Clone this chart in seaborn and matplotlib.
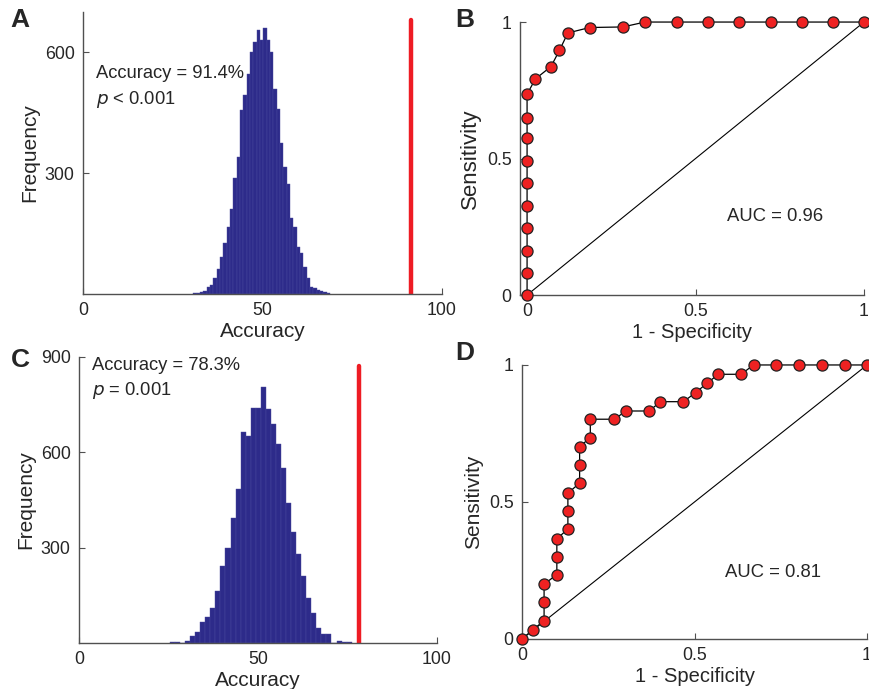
import numpy as np
import pandas as pd
import seaborn as sns
import matplotlib.pyplot as plt

# Panel A: permutation histogram (bin width ~0.93, starting at 30.7)
hist_a_start = 30.7
hist_a_width = 0.93
hist_a_counts = [2, 3, 5, 8, 18, 22, 39, 61, 93, 126, 167, 212, 287, 340, 456,
                 493, 547, 601, 626, 655, 630, 661, 630, 601, 510, 460, 374,
                 316, 274, 188, 167, 117, 101, 68, 39, 18, 14, 10, 7, 5, 2]
acc_a = 91.4

# Panel C: permutation histogram (bin width ~1.41, starting at 25.4)
hist_c_start = 25.4
hist_c_width = 1.41
hist_c_counts = [2, 4, 0, 6, 22, 35, 67, 82, 111, 164, 241, 299, 392, 483, 663,
                 650, 739, 739, 806, 736, 690, 626, 551, 440, 348, 280, 210,
                 140, 93, 48, 28, 28, 0, 7, 4, 2]
acc_c = 78.3

# Panel B: ROC curve
fpr_b = [0, 0, 0, 0, 0, 0, 0, 0, 0, 0, 0.025, 0.071, 0.096, 0.121, 0.186,
         0.284, 0.35, 0.445, 0.537, 0.63, 0.724, 0.817, 0.909, 1.0]
tpr_b = [0, 0.079, 0.163, 0.244, 0.326, 0.41, 0.491, 0.575, 0.65, 0.736,
         0.792, 0.837, 0.896, 0.96, 0.98, 0.982, 1, 1, 1, 1, 1, 1, 1, 1]

# Panel D: ROC curve
fpr_d = [0, 0.032, 0.064, 0.064, 0.064, 0.101, 0.101, 0.101, 0.133, 0.133,
         0.133, 0.167, 0.167, 0.167, 0.198, 0.198, 0.268, 0.301, 0.369, 0.401,
         0.468, 0.503, 0.536, 0.569, 0.635, 0.671, 0.736, 0.804, 0.87, 0.937, 1.0]
tpr_d = [0, 0.034, 0.067, 0.134, 0.2, 0.235, 0.299, 0.366, 0.401, 0.468,
         0.532, 0.569, 0.635, 0.702, 0.735, 0.802, 0.802, 0.832, 0.832, 0.866,
         0.866, 0.899, 0.933, 0.966, 0.966, 1, 1, 1, 1, 1, 1]

sns.set_theme(style="ticks")
plt.rcParams["font.family"] = ["Liberation Sans", "DejaVu Sans"]

BAR = "#2d2b8a"
SPINE = "#505050"

fig = plt.figure(figsize=(8.7, 6.89), dpi=100)
ax_a = fig.add_axes([0.0954, 0.5733, 0.4126, 0.4093])
ax_b = fig.add_axes([0.5977, 0.5718, 0.3954, 0.3962])
ax_c = fig.add_axes([0.0908, 0.0668, 0.4115, 0.4151])
ax_d = fig.add_axes([0.6000, 0.0726, 0.3966, 0.3977])


def style(ax):
    for s in ["top", "right"]:
        ax.spines[s].set_visible(False)
    for s in ["left", "bottom"]:
        ax.spines[s].set_color(SPINE)
        ax.spines[s].set_linewidth(1.0)
    ax.tick_params(direction="in", length=4, width=0.8, color=SPINE,
                   labelsize=12.8, pad=6)


def hist_panel(ax, start, width, counts, acc, ymax, yticks, line1, line2, ty):
    n = len(counts)
    centers = start + width * (np.arange(n) + 0.5)
    df = pd.DataFrame({"x": centers, "w": counts})
    sns.histplot(data=df, x="x", weights="w", binwidth=width,
                 binrange=(start, start + width * n), ax=ax,
                 color=BAR, alpha=1, edgecolor="#4a4a9e", linewidth=0.3)
    ax.axvline(acc, color="#ee1c24", lw=3.2, ymax=0.97)
    ax.set_xlim(0, 100)
    ax.set_ylim(0, ymax)
    ax.set_xticks([0, 50, 100])
    ax.set_yticks(yticks)
    ax.set_xlabel("Accuracy", fontsize=15, labelpad=2)
    ax.set_ylabel("Frequency", fontsize=15, labelpad=4)
    ax.text(3.6, ty[0], line1, fontsize=13.2, va="center")
    ax.text(3.6, ty[1], line2, fontsize=13.2, va="center")
    style(ax)


def roc_panel(ax, fpr, tpr, auc, xmin, tx, ty, ylab_size):
    ax.plot([0, 1], [0, 1], color="black", lw=0.8)
    df = pd.DataFrame({"fpr": fpr, "tpr": tpr})
    sns.lineplot(data=df, x="fpr", y="tpr", sort=False, estimator=None,
                 ax=ax, color="black", lw=0.9, marker="o", markersize=8,
                 markerfacecolor="#ee2222", markeredgecolor="#222222",
                 markeredgewidth=0.9, clip_on=False, zorder=5)
    ax.set_xlim(xmin, 1)
    ax.set_ylim(0, 1)
    ax.set_xticks([0, 0.5, 1])
    ax.set_xticklabels(["0", "0.5", "1"])
    ax.set_yticks([0, 0.5, 1])
    ax.set_yticklabels(["0", "0.5", "1"])
    ax.set_xlabel("1 - Specificity", fontsize=14.5, labelpad=2)
    ax.set_ylabel("Sensitivity", fontsize=ylab_size, labelpad=4)
    ax.text(tx, ty, f"AUC = {auc}", fontsize=13.3, ha="center", va="center")
    style(ax)


hist_panel(ax_a, hist_a_start, hist_a_width, hist_a_counts, acc_a, 700,
           [300, 600], "Accuracy = 91.4%", r"$p$ < 0.001", (548, 483))
hist_panel(ax_c, hist_c_start, hist_c_width, hist_c_counts, acc_c, 900,
           [300, 600, 900], "Accuracy = 78.3%", r"$p$ = 0.001", (872, 794))
roc_panel(ax_b, fpr_b, tpr_b, "0.96", -0.021, 0.736, 0.289, 16)
roc_panel(ax_d, fpr_d, tpr_d, "0.81", 0.0, 0.727, 0.241, 15)

for lab, x, y in [("A", 0.012, 0.988), ("B", 0.523, 0.988),
                  ("C", 0.012, 0.495), ("D", 0.523, 0.505)]:
    fig.text(x, y, lab, fontsize=19, fontweight="bold", va="top")

fig.savefig("out.png", dpi=100)
